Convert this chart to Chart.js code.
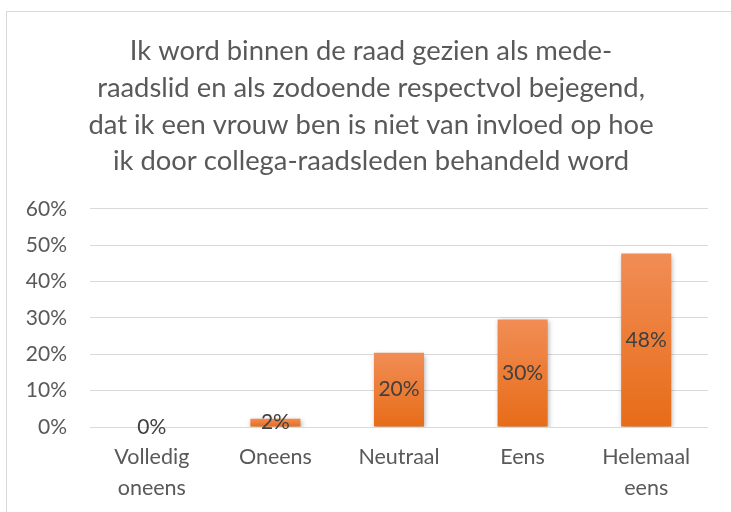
<!DOCTYPE html>
<html>
<head>
<meta charset="utf-8">
<script src="https://cdn.jsdelivr.net/npm/chart.js@4.4.1/dist/chart.umd.min.js"></script>
<style>
  html, body { margin: 0; padding: 0; background: #fff; overflow: hidden; }
  #frame { position: absolute; left: 6px; top: 11px; width: 760px; height: 540px; border: 1px solid #d9d9d9; box-sizing: border-box; }
  #wrap { position: absolute; left: 0; top: 0; width: 731px; height: 512px; }
</style>
</head>
<body>
<div id="frame"></div>
<div id="wrap"><canvas id="c"></canvas></div>
<script>
const titleLines = [
  "Ik word binnen de raad gezien als mede-",
  "raadslid en als zodoende respectvol bejegend,",
  "dat ik een vrouw ben is niet van invloed op hoe",
  "ik door collega-raadsleden behandeld word"
];
const categories = [["Volledig", "oneens"], "Oneens", "Neutraal", "Eens", ["Helemaal", "eens"]];
const values = [0, 2.3, 20.4, 29.6, 47.7];
const yTicks = [0, 10, 20, 30, 40, 50, 60];

const FONT = "Lato, 'Open Sans', sans-serif";

function barColor(ctx) {
  const chart = ctx.chart;
  const y = chart.scales && chart.scales.y;
  if (!chart.chartArea || !y || ctx.raw === undefined) return '#ED7D31';
  const top = y.getPixelForValue(ctx.raw);
  const base = y.getPixelForValue(0);
  if (!isFinite(top) || !isFinite(base) || Math.abs(base - top) < 1) return '#EE7A33';
  const g = chart.ctx.createLinearGradient(0, top, 0, base);
  g.addColorStop(0, '#F18D55');
  g.addColorStop(1, '#E76C18');
  return g;
}

// centre the title over the whole chart frame (6px .. 736px)
const titleCenter = {
  id: 'titleCenter',
  afterLayout(chart) {
    if (chart.titleBlock) {
      chart.titleBlock.left = 6;
      chart.titleBlock.right = 736;
    }
  }
};

const shadowPlugin = {
  id: 'barShadow',
  beforeDatasetsDraw(chart) {
    const c = chart.ctx;
    c.save();
    c.shadowColor = 'rgba(0,0,0,0.35)';
    c.shadowBlur = 5;
    c.shadowOffsetX = 1;
    c.shadowOffsetY = 2;
  },
  afterDatasetsDraw(chart) {
    const c = chart.ctx;
    c.restore();
    const meta = chart.getDatasetMeta(0);
    c.save();
    c.font = "21px " + FONT;
    c.fillStyle = '#404040';
    c.textAlign = 'center';
    c.textBaseline = 'middle';
    meta.data.forEach((el, i) => {
      const p = el.getCenterPoint();
      c.fillText(Math.round(values[i]) + '%', p.x, p.y);
    });
    c.restore();
  }
};

new Chart(document.getElementById('c'), {
  type: 'bar',
  data: {
    labels: categories,
    datasets: [{
      data: values,
      backgroundColor: barColor,
      borderWidth: 0,
      categoryPercentage: 1,
      barPercentage: 0.405
    }]
  },
  options: {
    responsive: true,
    maintainAspectRatio: false,
    animation: false,
    layout: { padding: { left: 0, right: 23, top: 0, bottom: 0 } },
    plugins: {
      legend: { display: false },
      tooltip: { enabled: false },
      title: {
        display: true,
        text: titleLines,
        color: '#595959',
        font: { family: FONT, size: 27.4, weight: 'normal', lineHeight: 1.34 },
        padding: { top: 33, bottom: 29 }
      }
    },
    scales: {
      x: {
        grid: { display: false, drawTicks: false },
        border: { display: false },
        ticks: {
          color: '#595959',
          font: { family: FONT, size: 21.5, lineHeight: 1.45 },
          padding: 14,
          maxRotation: 0,
          autoSkip: false
        },
        afterFit(s) { s.height = 85; }
      },
      y: {
        min: 0,
        max: 60,
        afterBuildTicks(s) { s.ticks = yTicks.map(v => ({ value: v })); },
        grid: { color: '#d9d9d9', lineWidth: 1, drawTicks: false },
        border: { display: false },
        ticks: {
          color: '#595959',
          font: { family: FONT, size: 21 },
          padding: 23,
          callback: v => v + '%'
        },
        afterFit(s) { s.width = 90; }
      }
    }
  },
  plugins: [titleCenter, shadowPlugin]
});
</script>
</body>
</html>
